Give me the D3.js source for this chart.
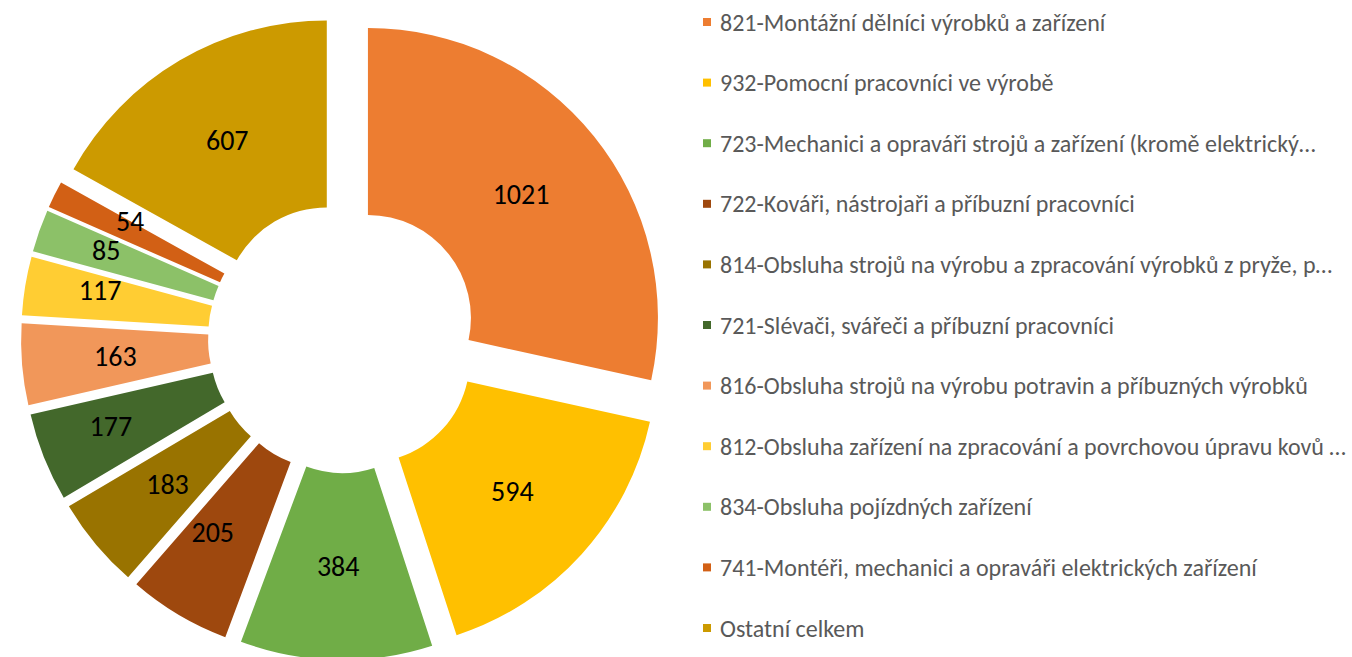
<!DOCTYPE html>
<html lang="cs">
<head>
<meta charset="utf-8">
<title>Profese – struktura</title>
<script src="https://cdn.jsdelivr.net/npm/d3@7"></script>
<style>
  html, body { margin: 0; padding: 0; background: #ffffff; }
  svg { display: block; }
  .lbl { font-family: Carlito, Lato, "Liberation Sans", sans-serif; fill: #000; }
  .leg { font-family: Carlito, Lato, "Liberation Sans", sans-serif; fill: #595959; }
</style>
</head>
<body>
<svg id="chart" width="1352" height="657"></svg>
<script>
// Categories (legend texts, as truncated in the legend)
const categories = [
  "821-Montážní dělníci výrobků a zařízení",
  "932-Pomocní pracovníci ve výrobě",
  "723-Mechanici a opraváři strojů a zařízení (kromě elektrický…",
  "722-Kováři, nástrojaři a příbuzní pracovníci",
  "814-Obsluha strojů na výrobu a zpracování výrobků z pryže, p…",
  "721-Slévači, svářeči a příbuzní pracovníci",
  "816-Obsluha strojů na výrobu potravin a příbuzných výrobků",
  "812-Obsluha zařízení na zpracování a povrchovou úpravu kovů …",
  "834-Obsluha pojízdných zařízení",
  "741-Montéři, mechanici a opraváři elektrických zařízení",
  "Ostatní celkem"
];

// Counts per category
const values = [1021, 594, 384, 205, 183, 177, 163, 117, 85, 54, 607];

// Slice colours
const colors = [
  "#ED7D31", "#FFC000", "#70AD47", "#9E480E", "#997300", "#43682B",
  "#F1975A", "#FFCD33", "#8CC168", "#D26015", "#CC9A00"
];

// Layout
const W = 1352, H = 657;
const cx = 343, cy = 338;
const outerR = 290, innerR = 103;
const explode = 32;

// Data labels that would collide in narrow slices are pushed outwards
// [radial px, angular degrees]
const labelNudge = [
  [0, 0], [0, 0], [0, 0], [6, 3.5], [0, 0], [20, 1],
  [0, 0], [19, 2], [24, 1], [14, 2.5], [0, 0]
];

const svg = d3.select("#chart");

const rows = categories.map((c, i) => ({ name: c, value: values[i], color: colors[i], nudge: labelNudge[i] }));

const pie = d3.pie().sort(null).value(d => d.value).startAngle(0).endAngle(2 * Math.PI);
const arc = d3.arc().innerRadius(innerR).outerRadius(outerR);
const arcs = pie(rows);

const g = svg.append("g").attr("transform", `translate(${cx},${cy})`);

const slice = g.selectAll("g.slice")
  .data(arcs)
  .join("g")
  .attr("class", "slice")
  .attr("transform", d => {
    const a = (d.startAngle + d.endAngle) / 2;
    return `translate(${explode * Math.sin(a)},${-explode * Math.cos(a)})`;
  });

slice.append("path")
  .attr("d", arc)
  .attr("fill", d => d.data.color);

const midR = (innerR + outerR) / 2;
slice.append("text")
  .attr("class", "lbl")
  .attr("font-size", 28)
  .attr("text-anchor", "middle")
  .attr("dominant-baseline", "central")
  .attr("x", d => {
    const a = (d.startAngle + d.endAngle) / 2 + d.data.nudge[1] * Math.PI / 180;
    return (midR + d.data.nudge[0]) * Math.sin(a);
  })
  .attr("y", d => {
    const a = (d.startAngle + d.endAngle) / 2 + d.data.nudge[1] * Math.PI / 180;
    return -(midR + d.data.nudge[0]) * Math.cos(a);
  })
  .text(d => d.data.value);

// Legend
const legendX = 703, legendTop = 22, legendStep = 60.6;
const legend = svg.append("g")
  .selectAll("g")
  .data(rows)
  .join("g")
  .attr("transform", (d, i) => `translate(${legendX},${legendTop + i * legendStep})`);

legend.append("rect")
  .attr("x", 0).attr("y", -4)
  .attr("width", 8).attr("height", 8)
  .attr("fill", d => d.color);

legend.append("text")
  .attr("class", "leg")
  .attr("x", 17)
  .attr("y", 0)
  .attr("font-size", 24)
  .attr("dominant-baseline", "central")
  .text(d => d.name);
</script>
</body>
</html>
